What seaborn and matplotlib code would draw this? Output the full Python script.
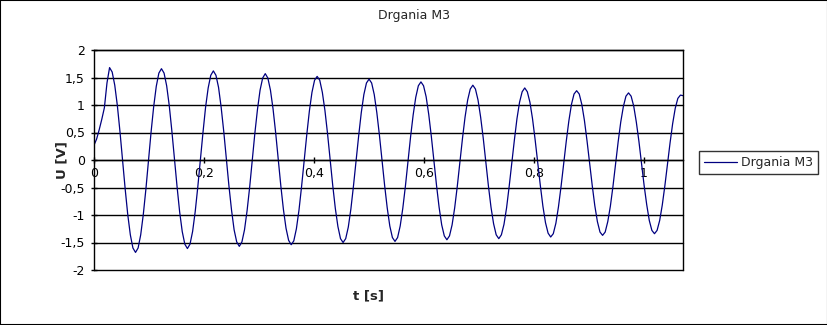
import matplotlib
matplotlib.use("Agg")
import matplotlib.pyplot as plt
from matplotlib.ticker import FixedLocator, FuncFormatter
from matplotlib.patches import Rectangle
import numpy as np
import pandas as pd
import seaborn as sns

# ---- data ----
SERIES_NAME = "Drgania M3"
T_START = 0.0
T_STEP = 0.00472  # sampling step of the listed values [s]
u_values = [
    0.27, 0.38, 0.55, 0.74, 0.95, 1.40, 1.68,
    1.60, 1.36, 0.99, 0.52, 0.00, -0.52, -0.99, -1.36, -1.60, -1.68,
    -1.60, -1.36, -0.99, -0.53, -0.01, 0.51, 0.97, 1.34, 1.58, 1.66,
    1.58, 1.35, 0.99, 0.53, 0.03, -0.48, -0.94, -1.30, -1.53, -1.61,
    -1.53, -1.30, -0.94, -0.49, 0.01, 0.50, 0.96, 1.31, 1.54, 1.62,
    1.54, 1.32, 0.96, 0.52, 0.03, -0.47, -0.91, -1.27, -1.49, -1.57,
    -1.49, -1.27, -0.92, -0.49, 0.00, 0.49, 0.92, 1.27, 1.49, 1.57,
    1.49, 1.27, 0.93, 0.50, 0.02, -0.47, -0.90, -1.24, -1.46, -1.54,
    -1.47, -1.25, -0.91, -0.48, -0.01, 0.46, 0.89, 1.23, 1.45, 1.52,
    1.45, 1.23, 0.90, 0.48, 0.01, -0.46, -0.88, -1.21, -1.43, -1.50,
    -1.43, -1.22, -0.89, -0.47, -0.01, 0.44, 0.86, 1.19, 1.40, 1.47,
    1.40, 1.19, 0.86, 0.45, -0.01, -0.46, -0.87, -1.20, -1.41, -1.48,
    -1.41, -1.20, -0.88, -0.48, -0.03, 0.42, 0.82, 1.14, 1.35, 1.42,
    1.35, 1.15, 0.83, 0.43, -0.02, -0.46, -0.86, -1.18, -1.38, -1.45,
    -1.38, -1.18, -0.87, -0.48, -0.04, 0.39, 0.78, 1.09, 1.29, 1.36,
    1.29, 1.09, 0.78, 0.40, -0.04, -0.47, -0.86, -1.16, -1.36, -1.43,
    -1.36, -1.17, -0.87, -0.48, -0.06, 0.36, 0.75, 1.05, 1.24, 1.31,
    1.24, 1.05, 0.75, 0.37, -0.05, -0.46, -0.84, -1.14, -1.33, -1.40,
    -1.34, -1.15, -0.85, -0.48, -0.07, 0.34, 0.71, 1.01, 1.20, 1.26,
    1.20, 1.01, 0.72, 0.35, -0.06, -0.46, -0.83, -1.12, -1.31, -1.37,
    -1.31, -1.12, -0.84, -0.48, -0.08, 0.33, 0.69, 0.97, 1.16, 1.22,
    1.16, 0.98, 0.69, 0.34, -0.06, -0.46, -0.81, -1.10, -1.28, -1.34,
    -1.28, -1.10, -0.82, -0.47, -0.08, 0.31, 0.66, 0.94, 1.12, 1.18,
    1.17,
]
x_ticks = [0, 0.2, 0.4, 0.6, 0.8, 1.0]
y_ticks = [-2, -1.5, -1, -0.5, 0, 0.5, 1, 1.5, 2]
X_MAX = 1.0714
TITLE = "Drgania M3"
X_LABEL = "t [s]"
Y_LABEL = "U [V]"

t_values = T_START + T_STEP * np.arange(len(u_values))
df = pd.DataFrame({"t": t_values, "U": u_values, "series": SERIES_NAME})

sns.set_style("white")
plt.rcParams["font.family"] = ["DejaVu Sans"]

W, H = 828, 325
fig = plt.figure(figsize=(W / 100, H / 100), dpi=100)
ax = fig.add_axes([94 / W, 1 - 270 / H, (683 - 94) / W, (270 - 50) / H])

sns.lineplot(data=df, x="t", y="U", hue="series", palette=["#000080"],
             linewidth=0.9, ax=ax, legend=True, estimator=None, sort=False)

ax.set_xlim(0, X_MAX)
ax.set_ylim(-2, 2)

def comma_fmt(v, pos=None):
    s = f"{v:g}"
    if s == "-0":
        s = "0"
    return s.replace(".", ",")

ax.yaxis.set_major_locator(FixedLocator(y_ticks))
ax.xaxis.set_major_locator(FixedLocator(x_ticks))
ax.yaxis.set_major_formatter(FuncFormatter(comma_fmt))
ax.xaxis.set_major_formatter(FuncFormatter(comma_fmt))

for yv in y_ticks:
    ax.axhline(yv, color="black", linewidth=1.0, zorder=0.5, clip_on=False)

for side in ["left", "right", "top"]:
    ax.spines[side].set_visible(True)
    ax.spines[side].set_color("black")
    ax.spines[side].set_linewidth(1.0)
ax.spines["bottom"].set_position(("data", 0))
ax.spines["bottom"].set_color("black")
ax.spines["bottom"].set_linewidth(1.0)

ax.tick_params(axis="y", direction="inout", length=5, width=1, pad=4,
               labelsize=9, colors="black", left=True)
ax.tick_params(axis="x", direction="inout", length=4, width=1, pad=3,
               labelsize=9, colors="black", bottom=True)

ax.set_xlabel("")
ax.set_ylabel("")
fig.text(369 / W, 1 - 296 / H, X_LABEL, ha="center", va="center",
         fontsize=9.5, fontweight="bold")
fig.text(62 / W, 1 - 160 / H, Y_LABEL, ha="center", va="center",
         rotation=90, fontsize=9.5, fontweight="bold")
fig.text(414 / W, 1 - 15 / H, TITLE, ha="center", va="center", fontsize=9)

leg = ax.legend(loc="center", bbox_to_anchor=(758.5 / W, 1 - 162.5 / H),
                bbox_transform=fig.transFigure, frameon=True, fancybox=False,
                fontsize=9, handlelength=2.6, handletextpad=0.3,
                borderpad=0.4, borderaxespad=0)
leg.get_frame().set_edgecolor("black")
leg.get_frame().set_linewidth(1.0)
for line in leg.get_lines():
    line.set_linewidth(0.9)

fig.patches.append(Rectangle((0, 0), 1, 1, transform=fig.transFigure,
                             fill=False, edgecolor="black", linewidth=1.5))

fig.savefig("out.png", dpi=100, facecolor="white")
